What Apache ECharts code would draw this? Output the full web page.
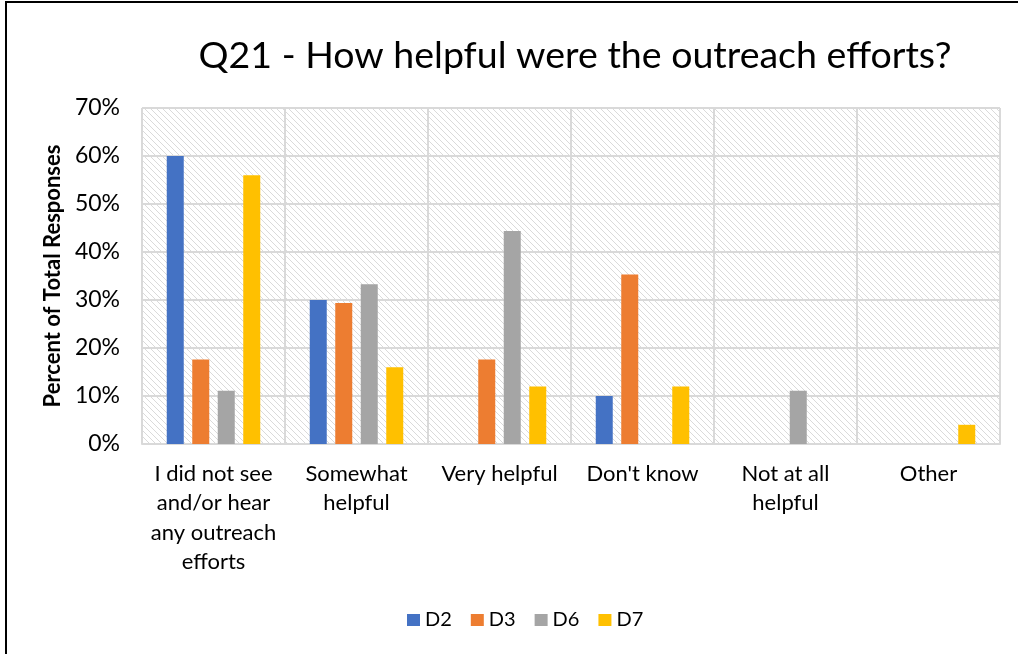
<!DOCTYPE html>
<html>
<head>
<meta charset="utf-8">
<script src="https://cdn.jsdelivr.net/npm/echarts@6/dist/echarts.min.js"></script>
<style>
html,body{margin:0;padding:0;background:#fff;}
#chart{width:1018px;height:654px;}
</style>
</head>
<body>
<div id="chart"></div>
<script>
const categories = ["I did not see\nand/or hear\nany outreach\nefforts", "Somewhat\nhelpful", "Very helpful", "Don't know", "Not at all\nhelpful", "Other"];
const seriesNames = ["D2", "D3", "D6", "D7"];
const d2 = [60, 30, 0, 10, 0, 0];
const d3 = [17.6, 29.4, 17.6, 35.3, 0, 0];
const d6 = [11.1, 33.3, 44.4, 0, 11.1, 0];
const d7 = [56, 16, 12, 12, 0, 4];
const colors = ["#4472C4", "#ED7D31", "#A5A5A5", "#FFC000"];
const yTicks = [0, 10, 20, 30, 40, 50, 60, 70];

const FONT = "Lato";

// hatch pattern for plot background
const pc = document.createElement('canvas');
pc.width = 6; pc.height = 6;
const px = pc.getContext('2d');
px.fillStyle = '#ffffff';
px.fillRect(0, 0, 6, 6);
px.strokeStyle = '#dadada';
px.lineWidth = 1;
px.beginPath();
px.moveTo(-1, -1); px.lineTo(7, 7);
px.moveTo(-7, -1); px.lineTo(1, 7);
px.moveTo(5, -1); px.lineTo(13, 7);
px.stroke();

const chart = echarts.init(document.getElementById('chart'), null, {renderer: 'canvas'});
const dataSets = [d2, d3, d6, d7];
chart.setOption({
  animation: false,
  backgroundColor: '#ffffff',
  title: {
    text: 'Q21 - How helpful were the outreach efforts?',
    left: 570,
    textAlign: 'center',
    top: 32,
    textStyle: {fontFamily: FONT, fontSize: 37.5, fontWeight: 'normal', color: '#000'}
  },
  legend: {
    data: seriesNames,
    left: 402,
    top: 605,
    icon: 'rect',
    itemWidth: 13,
    itemHeight: 12,
    itemGap: 19,
    textStyle: {fontFamily: FONT, fontSize: 20, color: '#000'}
  },
  grid: {
    left: 142, right: 18, top: 108, bottom: 210,
    show: true,
    backgroundColor: {image: pc, repeat: 'repeat'},
    borderColor: '#d9d9d9',
    borderWidth: 1
  },
  xAxis: {
    type: 'category',
    data: categories,
    axisTick: {show: false},
    axisLine: {lineStyle: {color: '#d9d9d9', width: 2}},
    splitLine: {show: true, interval: 0, lineStyle: {color: '#d9d9d9', width: 2}},
    axisLabel: {interval: 0, margin: 15, fontFamily: FONT, fontSize: 22, lineHeight: 29.5, color: '#000', align: 'center'}
  },
  yAxis: {
    type: 'value',
    min: 0, max: 70, interval: 10,
    name: 'Percent of Total Responses',
    nameLocation: 'middle',
    nameRotate: 90,
    nameGap: 74,
    nameTextStyle: {fontFamily: FONT, fontSize: 22, fontWeight: 'bold', color: '#000'},
    axisLine: {show: false},
    axisTick: {show: false},
    splitLine: {lineStyle: {color: '#d9d9d9', width: 2}},
    axisLabel: {formatter: v => yTicks.includes(v) ? v + '%' : '', margin: 22, fontFamily: FONT, fontSize: 23, color: '#000'}
  },
  series: dataSets.map((d, i) => ({
    name: seriesNames[i],
    type: 'bar',
    data: d,
    barWidth: 17,
    barGap: '50%',
    itemStyle: {color: colors[i]}
  })),
  graphic: [{
    type: 'rect',
    shape: {x: 6, y: 2, width: 1020, height: 660},
    style: {fill: 'none', stroke: '#000', lineWidth: 2},
    silent: true,
    z: 100
  }]
});
</script>
</body>
</html>
